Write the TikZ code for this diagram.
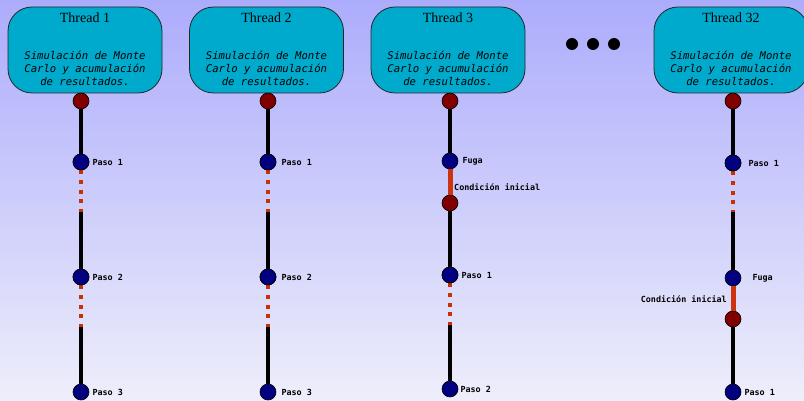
\documentclass[tikz,border=0pt]{standalone}
\usepackage{fontspec}
\setmainfont{Liberation Serif}
\newfontfamily\codefont{DejaVu Sans Mono}
\usetikzlibrary{positioning}

\definecolor{bgtop}{RGB}{172,172,252}
\definecolor{bgbottom}{RGB}{238,238,251}
\definecolor{boxcyan}{RGB}{0,170,204}
\definecolor{navydot}{RGB}{0,0,128}
\definecolor{maroondot}{RGB}{128,0,0}
\definecolor{gapred}{RGB}{200,50,0}
\definecolor{leakred}{RGB}{204,51,17}

\tikzset{
  threadbox/.style={draw=black!85, line width=0.8pt, fill=boxcyan,
    rounded corners=24pt, minimum width=154pt, minimum height=86pt},
  title/.style={font=\fontsize{14}{16}\selectfont, inner sep=0pt},
  body/.style={font=\codefont\itshape\fontsize{10.6}{13}\selectfont,
    align=center, inner sep=0pt},
  startdot/.style={circle, draw=black, line width=0.6pt, fill=maroondot,
    minimum size=16pt, inner sep=0pt},
  stepdot/.style={circle, draw=black, line width=0.6pt, fill=navydot,
    minimum size=16pt, inner sep=0pt},
  tag/.style={font=\codefont\bfseries\fontsize{8.4}{9}\selectfont, inner sep=0pt},
  run/.style={line width=4pt, black},
  gap/.style={line width=4pt, gapred, dash pattern=on 4pt off 5.7pt},
  leak/.style={line width=5pt, leakred},
}

\begin{document}
\begin{tikzpicture}[x=1pt,y=-1pt]
  \useasboundingbox (0,0) rectangle (804,401);
  \shade[top color=bgtop, bottom color=bgbottom] (0,0) rectangle (804,401);

  % cabeceras de los hilos
  \foreach \n/\x in {1/85, 2/266.5, 3/448, 32/731} {
    \node[threadbox] (box\n) at (\x,50) {};
    \node[title] at (\x,18) {Thread \n};
    \node[body] at (\x,68) {Simulación de Monte\\Carlo y acumulación\\de resultados.};
  }
  \foreach \x in {572,593,614}
    \fill[black] (\x,44) circle (6pt);

  % hilos 1 y 2
  \foreach \n/\x/\d in {1/81/3pt, 2/268/5pt} {
    \node[startdot] (s\n) at (\x,101) {};
    \node[stepdot] (a\n) at (\x,162) {};
    \coordinate (ga\n) at (\x,212);
    \node[stepdot] (b\n) at (\x,277) {};
    \coordinate (gb\n) at (\x,327);
    \node[stepdot] (c\n) at (\x,392) {};
    \draw[run] (s\n) -- (a\n);
    \draw[gap] (a\n) -- (ga\n);
    \draw[run] (ga\n) -- (b\n);
    \draw[gap] (b\n) -- (gb\n);
    \draw[run] (gb\n) -- (c\n);
    \node[stepdot] at (a\n) {};
    \node[stepdot] at (b\n) {};
    \node[tag, right=\d of a\n] {Paso 1};
    \node[tag, right=\d of b\n] {Paso 2};
    \node[tag, right=\d of c\n] {Paso 3};
  }

  % hilo 3
  \node[startdot] (s3) at (450,101) {};
  \node[stepdot] (f3) at (450,161) {};
  \node[startdot] (r3) at (450,203) {};
  \node[stepdot] (a3) at (450,275) {};
  \coordinate (ga3) at (450,325);
  \node[stepdot] (b3) at (450,389) {};
  \draw[run] (s3) -- (f3);
  \draw[leak] (f3) -- (r3);
  \draw[run] (r3) -- (a3);
  \draw[gap] (a3) -- (ga3);
  \draw[run] (ga3) -- (b3);
  \node[stepdot] at (a3) {};
  \node[tag, right=4pt of f3] {Fuga};
  \node[tag, anchor=west] at (454,187) {Condición inicial};
  \node[tag, right=3pt of a3] {Paso 1};
  \node[tag, right=2pt of b3] {Paso 2};

  % hilo 32
  \node[startdot] (s32) at (733,101) {};
  \node[stepdot] (a32) at (733,163) {};
  \coordinate (ga32) at (733,212);
  \node[stepdot] (f32) at (733,278) {};
  \node[startdot] (r32) at (733,319) {};
  \node[stepdot] (b32) at (733,392) {};
  \draw[run] (s32) -- (a32);
  \draw[gap] (a32) -- (ga32);
  \draw[run] (ga32) -- (f32);
  \draw[leak] (f32) -- (r32);
  \draw[run] (r32) -- (b32);
  \node[stepdot] at (a32) {};
  \node[tag, right=7pt of a32] {Paso 1};
  \node[tag, right=11pt of f32] {Fuga};
  \node[tag, anchor=east] at (727,299) {Condición inicial};
  \node[tag, right=3pt of b32] {Paso 1};
\end{tikzpicture}
\end{document}
